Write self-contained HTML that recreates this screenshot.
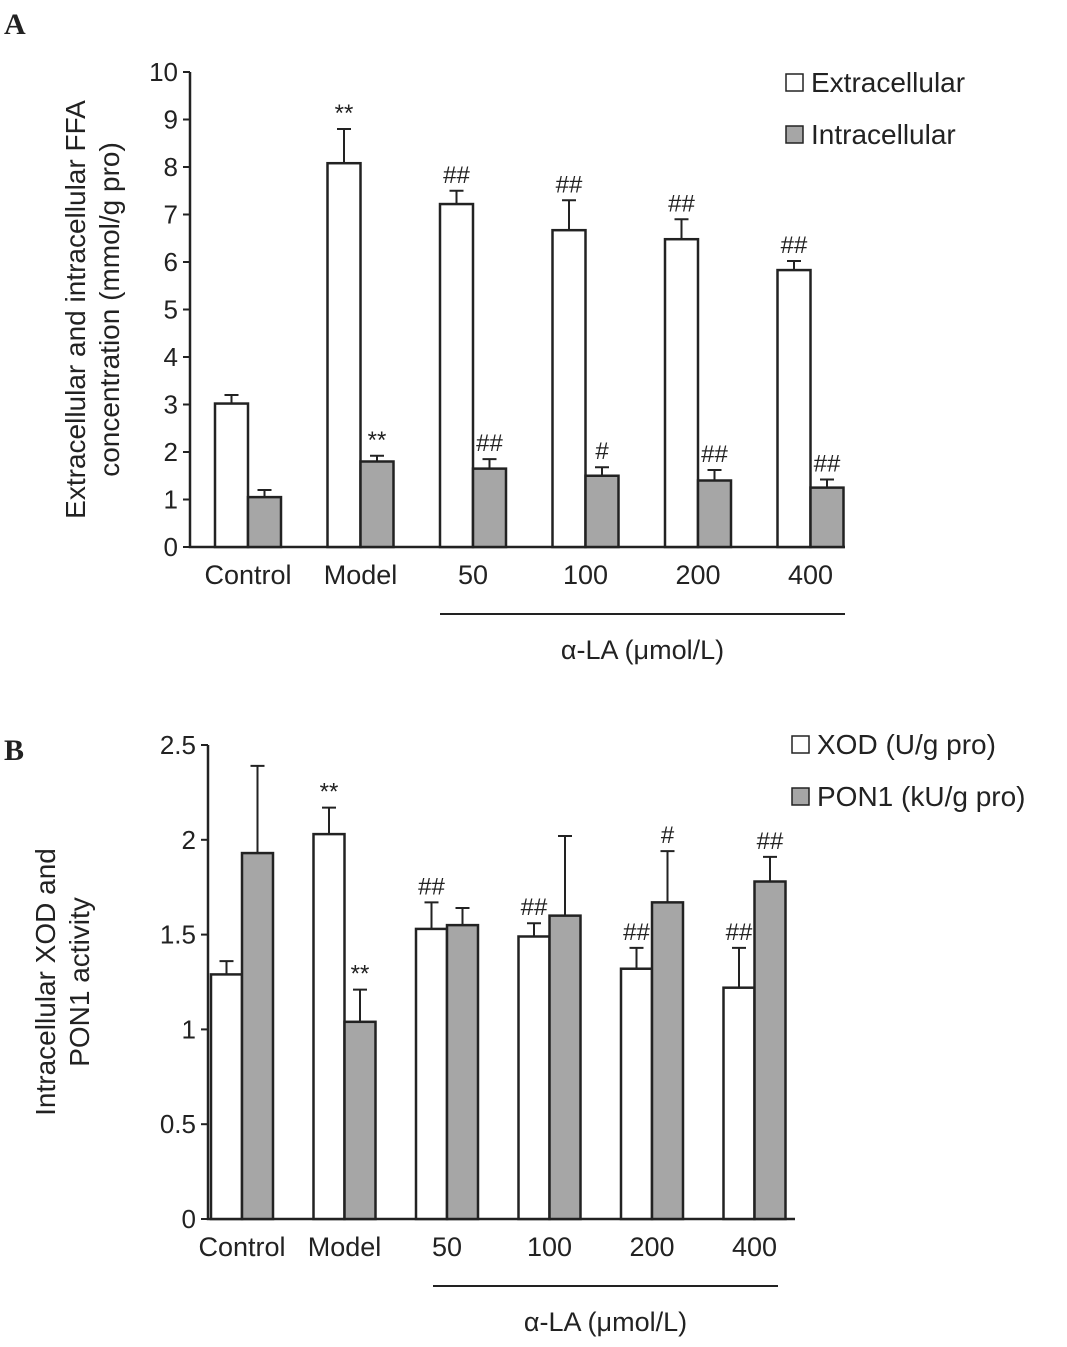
<!DOCTYPE html>
<html><head><meta charset="utf-8"><style>
body{margin:0;background:#fff;}
svg text{font-family:"Liberation Sans",Arial,sans-serif;fill:#222;}
</style></head><body>
<svg width="1067" height="1342" xmlns="http://www.w3.org/2000/svg" id="root">
<text x="4" y="34" font-weight="bold" font-size="30" style="font-family:'Liberation Serif'">A</text>
<text x="4" y="760" font-weight="bold" font-size="30" style="font-family:'Liberation Serif'">B</text>
<g id="ga"></g>
<g id="gb"></g>
</svg>
<script>
const categories=["Control","Model","50","100","200","400"];
const extVals=[3.02,8.08,7.22,6.67,6.48,5.83];
const extErr=[0.18,0.72,0.28,0.63,0.42,0.19];
const intVals=[1.05,1.8,1.65,1.5,1.4,1.25];
const intErr=[0.15,0.12,0.2,0.18,0.22,0.17];
const extSig=["","**","##","##","##","##"];
const intSig=["","**","##","#","##","##"];
const ticksA=[0,1,2,3,4,5,6,7,8,9,10];
const xodVals=[1.29,2.03,1.53,1.49,1.32,1.22];
const xodErr=[0.07,0.14,0.14,0.07,0.11,0.21];
const ponVals=[1.93,1.04,1.55,1.6,1.67,1.78];
const ponErr=[0.46,0.17,0.09,0.42,0.27,0.13];
const xodSig=["","**","##","##","##","##"];
const ponSig=["","**","","","#","##"];
const ticksB=[0,0.5,1,1.5,2,2.5];
const tickLabelsB=["0","0.5","1","1.5","2","2.5"];
const NS="http://www.w3.org/2000/svg";
function mk(p,t,a,txt){const e=document.createElementNS(NS,t);for(const k in a)e.setAttribute(k,a[k]);if(txt!==undefined)e.textContent=txt;p.appendChild(e);return e;}
function chart(g,o){
 const y=v=>o.y0-(v-o.min)/(o.max-o.min)*(o.y0-o.y1);
 const x=i=>o.c0+i*o.pitch;
 const ax=mk(g,'path',{d:`M${o.ax} ${o.y1}V${o.y0}H${o.axEnd}`,stroke:'#222','stroke-width':2.5,fill:'none'});
 
 
 o.ticks.forEach((t,i)=>{
  const l=mk(g,'line',{x1:o.ax-7,x2:o.ax,y1:y(t),y2:y(t),stroke:'#222','stroke-width':2});
  
  
  const tx=mk(g,'text',{x:o.ax-12,y:y(t)+9,'text-anchor':'end','font-size':26},o.tl[i]);
  
  
 });
 categories.forEach((c,i)=>{
  const t=mk(g,'text',{x:x(i),y:o.y0+37,'text-anchor':'middle','font-size':27},c);
  
  
  [[o.s1,o.e1,o.g1,'#fff',-1],[o.s2,o.e2,o.g2,'#a6a6a6',0]].forEach(([s,e,sig,fill,off])=>{
   const bx=x(i)+off*o.bw;
   const top=y(s[i]+e[i]);
   const cx=bx+o.bw/2;
   const eb=mk(g,'path',{d:`M${cx} ${y(s[i])}V${top}M${cx-7} ${top}H${cx+7}`,stroke:'#222','stroke-width':2,fill:'none'});
   
   
   const r=mk(g,'rect',{x:bx,y:y(s[i]),width:o.bw,height:o.y0-y(s[i]),fill:fill,stroke:'#222','stroke-width':2.5});
   
   
   if(sig[i]){const st=mk(g,'text',{x:cx,y:top-8,'text-anchor':'middle','font-size':24},sig[i]);
    
    }
  });
 });
 const ul=mk(g,'line',{x1:o.ul0,x2:o.ul1,y1:o.y0+67,y2:o.y0+67,stroke:'#222','stroke-width':2});
 
 
 const gl=mk(g,'text',{x:(o.ul0+o.ul1)/2,y:o.y0+112,'text-anchor':'middle','font-size':27},'α-LA (μmol/L)');
 
 
 const yt=mk(g,'text',{transform:`translate(${o.ytx},${(o.y0+o.y1)/2}) rotate(-90)`,'text-anchor':'middle','font-size':28});
 
 
 o.yt.forEach((s,i)=>mk(yt,'tspan',{x:0,dy:i?34:0},s));
 o.leg.forEach((s,i)=>{
  const r=mk(g,'rect',{x:o.lx,y:o.ly+i*o.lgap-16,width:17,height:17,fill:i?'#a6a6a6':'#fff',stroke:'#222','stroke-width':1.5});
  
  
  const t=mk(g,'text',{x:o.lx+25,y:o.ly+i*o.lgap+2,'font-size':28},s);
  
  
 });
}
chart(document.getElementById('ga'),{min:0,max:10,y0:547,y1:72,ax:190,axEnd:845,c0:248,pitch:112.5,bw:33,ticks:ticksA,tl:ticksA.map(String),
 s1:extVals,e1:extErr,g1:extSig,s2:intVals,e2:intErr,g2:intSig,ul0:440,ul1:845,ytx:85,yt:['Extracellular and intracellular FFA','concentration (mmol/g pro)'],
 leg:['Extracellular','Intracellular'],lx:786,ly:90,lgap:52});
chart(document.getElementById('gb'),{min:0,max:2.5,y0:1219,y1:745,ax:208,axEnd:795,c0:242,pitch:102.5,bw:31,ticks:ticksB,tl:tickLabelsB,
 s1:xodVals,e1:xodErr,g1:xodSig,s2:ponVals,e2:ponErr,g2:ponSig,ul0:433,ul1:778,ytx:55,yt:['Intracellular XOD and','PON1 activity'],
 leg:['XOD (U/g pro)','PON1 (kU/g pro)'],lx:792,ly:752,lgap:52});
</script>
</body></html>
